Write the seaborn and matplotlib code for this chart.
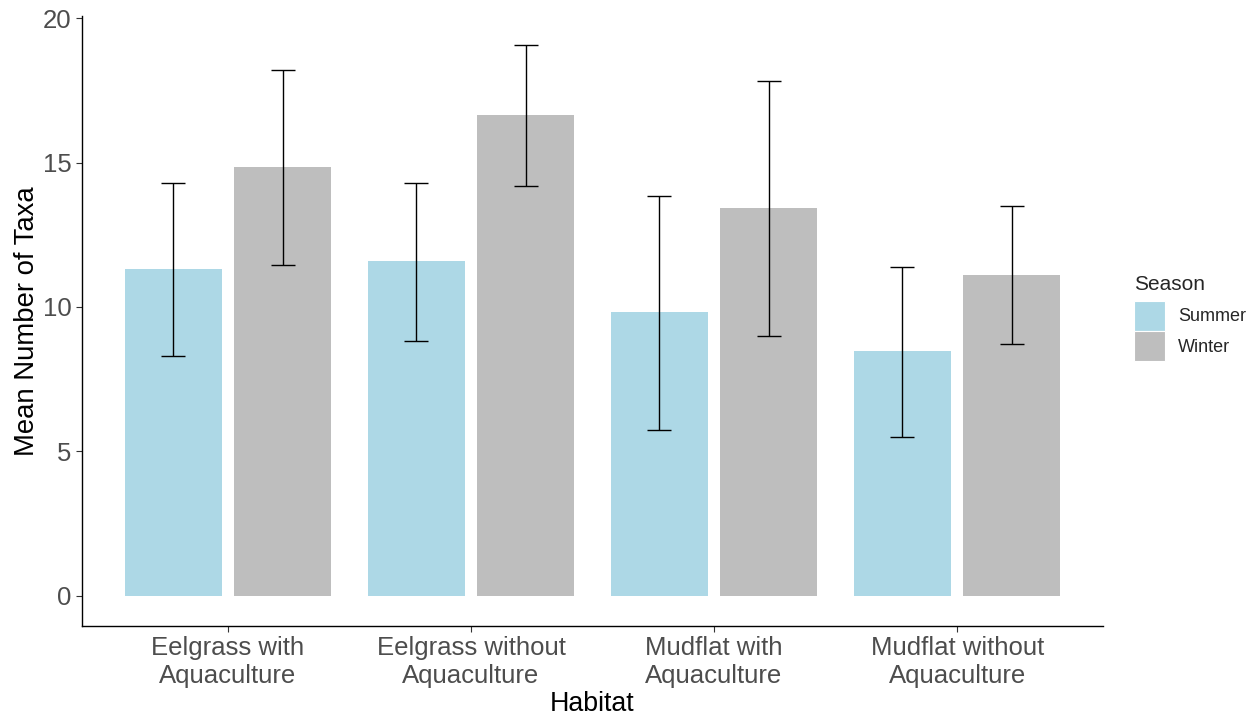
import matplotlib
matplotlib.use("Agg")
import matplotlib.pyplot as plt
import seaborn as sns
import pandas as pd
import numpy as np

habitats = ["Eelgrass with\nAquaculture", "Eelgrass without\nAquaculture",
            "Mudflat with\nAquaculture", "Mudflat without\nAquaculture"]
seasons = ["Summer", "Winter"]
summer_mean = [11.31, 11.59, 9.83, 8.48]
summer_lo = [8.30, 8.82, 5.74, 5.50]
summer_hi = [14.29, 14.29, 13.84, 11.38]
winter_mean = [14.84, 16.64, 13.43, 11.11]
winter_lo = [11.45, 14.19, 9.00, 8.72]
winter_hi = [18.20, 19.07, 17.82, 13.49]
colors = {"Summer": "#ADD8E6", "Winter": "#BEBEBE"}

df = pd.DataFrame({
    "Habitat": habitats * 2,
    "Season": ["Summer"] * 4 + ["Winter"] * 4,
    "Mean": summer_mean + winter_mean,
    "Lo": summer_lo + winter_lo,
    "Hi": summer_hi + winter_hi,
})

sns.set_theme(style="white")
plt.rcParams["font.family"] = ["Liberation Sans", "DejaVu Sans"]

fig = plt.figure(figsize=(12.57, 7.19), dpi=100)
ax = fig.add_axes([82/1257, 93/719, (1103-82)/1257, (626-16)/719])

sns.barplot(data=df, x="Habitat", y="Mean", hue="Season", hue_order=seasons,
            order=habitats, palette=colors, errorbar=None, width=0.9, gap=0.111,
            saturation=1, ax=ax, linewidth=0)

for cont, s in zip(ax.containers, seasons):
    sub = df[df["Season"] == s].set_index("Habitat").loc[habitats]
    xs = [b.get_x() + b.get_width() / 2 for b in cont]
    means = sub["Mean"].values
    ax.errorbar(xs, means, yerr=[means - sub["Lo"].values, sub["Hi"].values - means],
                fmt="none", ecolor="black", elinewidth=1.0, capsize=8.6, capthick=1.0)

ax.set_xlim(-0.6, 3.6)
ax.set_ylim(-1.04, 20.07)
ax.set_yticks([0, 5, 10, 15, 20])
for sp in ["top", "right"]:
    ax.spines[sp].set_visible(False)
for sp in ["left", "bottom"]:
    ax.spines[sp].set_color("black")
    ax.spines[sp].set_linewidth(1.0)
ax.tick_params(axis="both", which="both", length=4, width=0.8, color="#333333",
               labelsize=18.5, labelcolor="#4D4D4D", left=True, bottom=True)
ax.tick_params(axis="x", pad=3)
ax.set_xlabel("Habitat", fontsize=19.3, color="black", labelpad=2)
ax.set_ylabel("Mean Number of Taxa", fontsize=19.8, color="black", labelpad=2)
for lbl in ax.get_xticklabels():
    lbl.set_linespacing(1.25)

sns.move_legend(ax, loc="center left", bbox_to_anchor=(1.022, 0.505), frameon=False,
                title="Season", fontsize=13, title_fontsize=15,
                handlelength=1.7, handleheight=2.2, labelspacing=0.0,
                handletextpad=0.7, borderpad=0)
leg = ax.get_legend()
leg._legend_box.align = "left"
leg._legend_box.sep = 5
for h in leg.legend_handles:
    h.set_edgecolor("white")
    h.set_linewidth(0.8)

fig.savefig("out.png", dpi=100)
